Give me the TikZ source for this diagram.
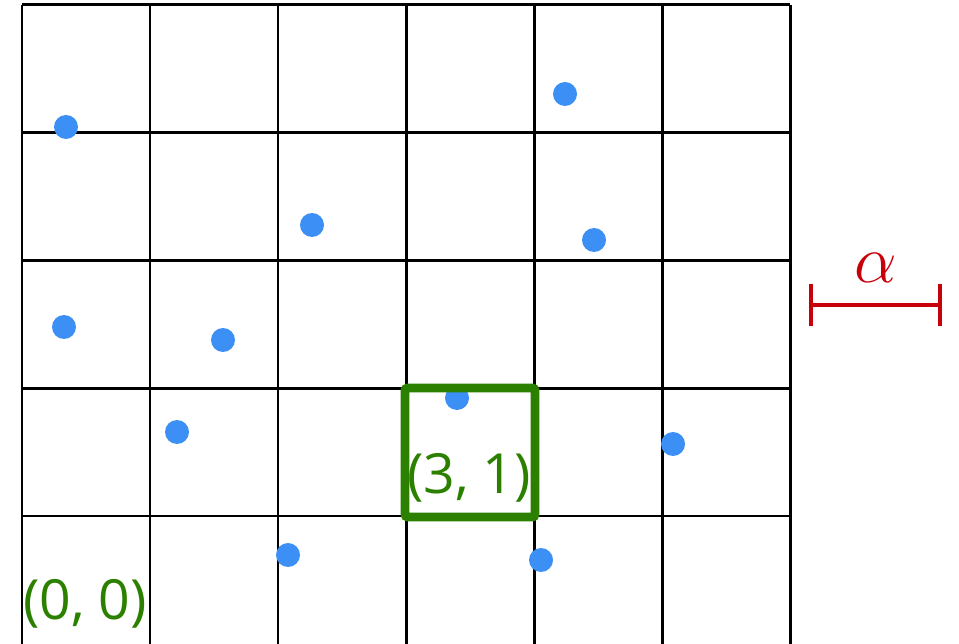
\documentclass[tikz,border=0pt]{standalone}
\usepackage{graphicx}
\usepackage{fontspec}
\setmainfont{Open Sans}
\definecolor{dotblue}{RGB}{59,143,245}
\definecolor{cellgreen}{RGB}{44,128,0}
\definecolor{alphared}{RGB}{200,0,10}
\tikzset{
  gridline/.style={line width=1.7pt, black},
  dot/.style={circle, fill=dotblue, inner sep=0pt, minimum size=0.48cm},
  lbl/.style={text=cellgreen, font=\fontsize{31.5}{34}\selectfont, inner sep=0pt},
  cellbox/.style={draw=cellgreen, line width=5pt, rounded corners=1.5pt},
  bar/.style={draw=alphared, line width=2.8pt}
}
\begin{document}
\begin{tikzpicture}[x=0.02cm,y=-0.02cm]
\useasboundingbox (0,0) rectangle (959,644);
\foreach \i in {0,...,6} { \draw[gridline] (22+128*\i,5) -- (22+128*\i,644); }
\foreach \j in {0,...,4} { \draw[gridline] (22,5+127.75*\j) -- (790,5+127.75*\j); }
\node[dot] (p1) at (66,127) {};
\node[dot] (p2) at (565,94) {};
\node[dot] (p3) at (312,225) {};
\node[dot] (p4) at (594,240) {};
\node[dot] (p5) at (64,327) {};
\node[dot] (p6) at (223,340) {};
\node[dot] (p7) at (177,432) {};
\node[dot] (p8) at (457,398) {};
\node[dot] (p9) at (673,444) {};
\node[dot] (p10) at (288,555) {};
\node[dot] (p11) at (541,560) {};
\draw[cellbox] (405,388) rectangle (535,517);
\node[lbl] (l31) at (469,478) {(3, 1)};
\node[lbl] (l00) at (85,604) {(0, 0)};
\coordinate (al) at (811,305);
\coordinate (ar) at (940,305);
\draw[bar] (al) -- (ar);
\draw[bar] ([yshift=0.42cm]al) -- ([yshift=-0.42cm]al);
\draw[bar] ([yshift=0.42cm]ar) -- ([yshift=-0.42cm]ar);
\node[text=alphared, font=\fontsize{24.88}{26}\selectfont, inner sep=0pt] (alpha) at (876,268) {\scalebox{1.55}{$\alpha$}};
\end{tikzpicture}
\end{document}
